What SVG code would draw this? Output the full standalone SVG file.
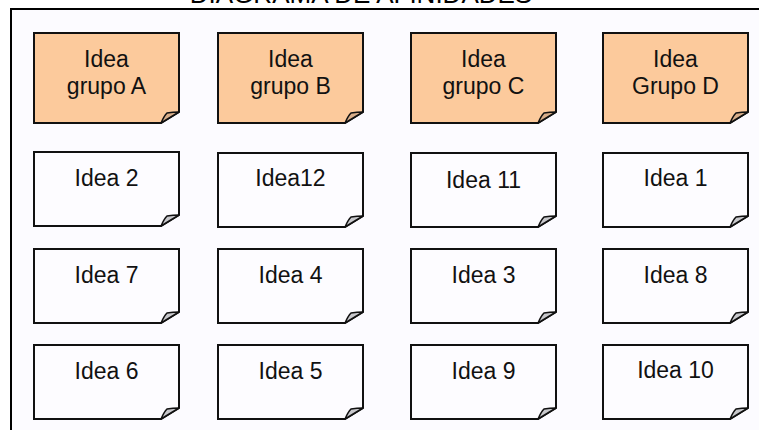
<svg xmlns="http://www.w3.org/2000/svg" xmlns:xlink="http://www.w3.org/1999/xlink" width="759" height="430" viewBox="0 0 759 430">
  <style>
    .frame { fill: #fcfbff; stroke: #000; stroke-width: 2; }
    .note { stroke: #111; stroke-width: 2; stroke-linejoin: miter; }
    .fold { stroke: #111; stroke-width: 1.5; stroke-linejoin: round; }
    .head use.n { fill: #fcca9c; }
    .head use.f { fill: #d8ae8a; }
    .idea use.n { fill: #fdfcff; }
    .idea use.f { fill: #c8c8cc; }
    text { font-family: "Liberation Sans", Arial, sans-serif; font-size: 23px; fill: #111; text-anchor: middle; }
    .title { font-size: 26px; fill: #000; }
  </style>
  <defs>
    <!-- sticky note with the bottom-right corner curled up -->
    <path id="note-tall" class="note" d="M0 0 H145 V79 L127 90 H0 Z"/>
    <path id="fold-tall" class="fold" d="M127 90 Q130 83 133 80 Q139 79 145 79 Z"/>
    <path id="note-short" class="note" d="M0 0 H145 V63 L127 74 H0 Z"/>
    <path id="fold-short" class="fold" d="M127 74 Q130 67 133 64 Q139 63 145 63 Z"/>
  </defs>

  <rect width="759" height="430" fill="#ffffff"/>
  <text class="title" x="361" y="3">DIAGRAMA DE AFINIDADES</text>
  <rect class="frame" x="11" y="9" width="760" height="430"/>

  <!-- header notes -->
  <g id="grupo-a" class="head" transform="translate(34 33)">
    <use class="n" xlink:href="#note-tall"/><use class="f" xlink:href="#fold-tall"/>
    <text x="72.5" y="34">Idea</text><text x="72.5" y="61">grupo A</text>
  </g>
  <g id="grupo-b" class="head" transform="translate(218 33)">
    <use class="n" xlink:href="#note-tall"/><use class="f" xlink:href="#fold-tall"/>
    <text x="72.5" y="34">Idea</text><text x="72.5" y="61">grupo B</text>
  </g>
  <g id="grupo-c" class="head" transform="translate(411 33)">
    <use class="n" xlink:href="#note-tall"/><use class="f" xlink:href="#fold-tall"/>
    <text x="72.5" y="34">Idea</text><text x="72.5" y="61">grupo C</text>
  </g>
  <g id="grupo-d" class="head" transform="translate(603 33)">
    <use class="n" xlink:href="#note-tall"/><use class="f" xlink:href="#fold-tall"/>
    <text x="72.5" y="34">Idea</text><text x="72.5" y="61">Grupo D</text>
  </g>

  <!-- row 2 -->
  <g id="idea-2" class="idea" transform="translate(34 152)">
    <use class="n" xlink:href="#note-short"/><use class="f" xlink:href="#fold-short"/>
    <text x="72.5" y="34">Idea 2</text>
  </g>
  <g id="idea-12" class="idea" transform="translate(218 153)">
    <use class="n" xlink:href="#note-short"/><use class="f" xlink:href="#fold-short"/>
    <text x="72.5" y="33">Idea12</text>
  </g>
  <g id="idea-11" class="idea" transform="translate(411 153)">
    <use class="n" xlink:href="#note-short"/><use class="f" xlink:href="#fold-short"/>
    <text x="72.5" y="35">Idea 11</text>
  </g>
  <g id="idea-1" class="idea" transform="translate(603 153)">
    <use class="n" xlink:href="#note-short"/><use class="f" xlink:href="#fold-short"/>
    <text x="72.5" y="33">Idea 1</text>
  </g>

  <!-- row 3 -->
  <g id="idea-7" class="idea" transform="translate(34 249)">
    <use class="n" xlink:href="#note-short"/><use class="f" xlink:href="#fold-short"/>
    <text x="72.5" y="34">Idea 7</text>
  </g>
  <g id="idea-4" class="idea" transform="translate(218 249)">
    <use class="n" xlink:href="#note-short"/><use class="f" xlink:href="#fold-short"/>
    <text x="72.5" y="34">Idea 4</text>
  </g>
  <g id="idea-3" class="idea" transform="translate(411 249)">
    <use class="n" xlink:href="#note-short"/><use class="f" xlink:href="#fold-short"/>
    <text x="72.5" y="34">Idea 3</text>
  </g>
  <g id="idea-8" class="idea" transform="translate(603 249)">
    <use class="n" xlink:href="#note-short"/><use class="f" xlink:href="#fold-short"/>
    <text x="72.5" y="34">Idea 8</text>
  </g>

  <!-- row 4 -->
  <g id="idea-6" class="idea" transform="translate(34 345)">
    <use class="n" xlink:href="#note-short"/><use class="f" xlink:href="#fold-short"/>
    <text x="72.5" y="34">Idea 6</text>
  </g>
  <g id="idea-5" class="idea" transform="translate(218 345)">
    <use class="n" xlink:href="#note-short"/><use class="f" xlink:href="#fold-short"/>
    <text x="72.5" y="34">Idea 5</text>
  </g>
  <g id="idea-9" class="idea" transform="translate(411 345)">
    <use class="n" xlink:href="#note-short"/><use class="f" xlink:href="#fold-short"/>
    <text x="72.5" y="34">Idea 9</text>
  </g>
  <g id="idea-10" class="idea" transform="translate(603 345)">
    <use class="n" xlink:href="#note-short"/><use class="f" xlink:href="#fold-short"/>
    <text x="72.5" y="33">Idea 10</text>
  </g>

  <g id="connectors"/>
</svg>
